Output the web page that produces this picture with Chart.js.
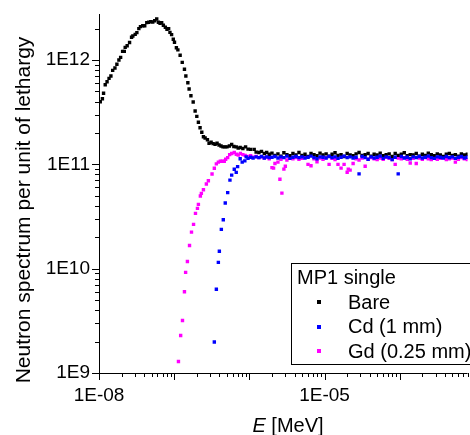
<!DOCTYPE html>
<html>
<head>
<meta charset="utf-8">
<script src="https://cdn.jsdelivr.net/npm/chart.js@4.4.1/dist/chart.umd.min.js"></script>
<style>
html, body { margin: 0; padding: 0; background: #fff; }
#chart { display: block; }
</style>
</head>
<body>
<canvas id="chart" width="470" height="435"></canvas>
<script>
// energies in MeV, spectrum per unit of lethargy
var bareE = [1.04e-8, 1.11e-8, 1.15e-8, 1.21e-8, 1.28e-8, 1.36e-8, 1.44e-8, 1.52e-8, 1.63e-8, 1.73e-8,
	1.84e-8, 1.94e-8, 2.06e-8, 2.17e-8, 2.23e-8, 2.37e-8, 2.55e-8, 2.71e-8, 2.82e-8, 3.03e-8,
	3.19e-8, 3.39e-8, 3.56e-8, 3.82e-8, 4.06e-8, 4.32e-8, 4.59e-8, 4.88e-8, 5.19e-8, 5.51e-8,
	5.86e-8, 6.17e-8, 6.49e-8, 6.82e-8, 7.18e-8, 7.63e-8, 8.02e-8, 8.44e-8, 8.79e-8, 9.24e-8,
	9.73e-8, 1.01e-7, 1.07e-7, 1.12e-7, 1.20e-7, 1.28e-7, 1.37e-7, 1.43e-7, 1.52e-7, 1.58e-7,
	1.67e-7, 1.79e-7, 1.90e-7, 2.00e-7, 2.10e-7, 2.21e-7, 2.33e-7, 2.45e-7, 2.58e-7, 2.77e-7,
	2.91e-7, 3.10e-7, 3.29e-7, 3.50e-7, 3.72e-7, 3.95e-7, 4.20e-7, 4.46e-7, 4.74e-7, 5.04e-7,
	5.42e-7, 5.82e-7, 6.22e-7, 6.69e-7, 7.10e-7, 7.55e-7, 8.20e-7, 8.91e-7, 9.60e-7, 1.04e-6,
	1.16e-6, 1.23e-6, 1.34e-6, 1.45e-6, 1.58e-6, 1.70e-6, 1.84e-6];
var bareFlux = [3.98e11, 4.25e11, 4.80e11, 5.80e11, 6.19e11, 6.67e11, 7.03e11, 7.96e11, 8.38e11, 9.10e11,
	1.00e12, 1.06e12, 1.21e12, 1.21e12, 1.32e12, 1.37e12, 1.47e12, 1.65e12, 1.70e12, 1.76e12,
	1.83e12, 2.00e12, 2.09e12, 2.13e12, 2.13e12, 2.28e12, 2.30e12, 2.33e12, 2.31e12, 2.38e12,
	2.47e12, 2.30e12, 2.25e12, 2.28e12, 2.15e12, 2.06e12, 1.97e12, 2.00e12, 1.84e12, 1.75e12,
	1.58e12, 1.48e12, 1.31e12, 1.25e12, 1.11e12, 9.50e11, 8.15e11, 7.03e11, 6.06e11, 5.27e11,
	4.55e11, 3.96e11, 3.24e11, 2.88e11, 2.53e11, 2.24e11, 2.03e11, 1.84e11, 1.79e11, 1.72e11,
	1.59e11, 1.63e11, 1.58e11, 1.56e11, 1.59e11, 1.53e11, 1.50e11, 1.47e11, 1.47e11, 1.47e11,
	1.50e11, 1.55e11, 1.48e11, 1.47e11, 1.43e11, 1.45e11, 1.42e11, 1.47e11, 1.40e11, 1.39e11,
	1.39e11, 1.31e11, 1.30e11, 1.33e11, 1.27e11, 1.30e11, 1.25e11];

var cdE = [3.42e-7, 3.64e-7, 3.87e-7, 3.99e-7, 4.24e-7, 4.50e-7, 4.78e-7, 5.15e-7, 5.52e-7, 5.82e-7,
	6.30e-7, 6.69e-7, 6.98e-7, 7.55e-7, 8.03e-7, 8.71e-7, 9.07e-7, 9.60e-7, 1.04e-6, 1.12e-6,
	1.23e-6, 1.34e-6, 1.45e-6, 1.58e-6, 1.70e-6, 1.84e-6];
var cdFlux = [1.98e9, 6.34e9, 1.15e10, 1.47e10, 2.38e10, 2.94e10, 4.26e10, 5.35e10, 7.06e10, 7.89e10,
	8.96e10, 8.38e10, 9.50e10, 1.13e11, 1.05e11, 1.08e11, 1.18e11, 1.14e11, 1.17e11, 1.15e11,
	1.18e11, 1.16e11, 1.19e11, 1.15e11, 1.18e11, 1.16e11];

var gdE = [1.14e-7, 1.22e-7, 1.29e-7, 1.37e-7, 1.42e-7, 1.50e-7, 1.60e-7, 1.70e-7, 1.81e-7, 1.92e-7,
	2.04e-7, 2.10e-7, 2.23e-7, 2.30e-7, 2.45e-7, 2.68e-7, 2.85e-7, 3.19e-7, 3.42e-7, 3.64e-7,
	3.87e-7, 4.11e-7, 4.36e-7, 4.64e-7, 4.84e-7, 5.15e-7, 5.47e-7, 5.82e-7, 6.30e-7, 6.70e-7,
	7.11e-7, 7.60e-7, 8.20e-7, 8.80e-7, 9.60e-7, 1.04e-6, 1.12e-6, 1.23e-6, 1.34e-6, 1.45e-6,
	1.58e-6, 1.70e-6, 1.84e-6];
var gdFlux = [1.29e9, 2.29e9, 3.19e9, 6.01e9, 9.21e9, 1.17e10, 1.67e10, 2.24e10, 2.66e10, 3.39e10,
	3.78e10, 4.13e10, 4.97e10, 5.27e10, 5.70e10, 6.48e10, 6.96e10, 8.08e10, 9.16e10, 1.01e11,
	1.05e11, 1.07e11, 1.07e11, 1.07e11, 1.12e11, 1.16e11, 1.24e11, 1.27e11, 1.30e11, 1.25e11,
	1.23e11, 1.27e11, 1.24e11, 1.22e11, 1.19e11, 1.21e11, 1.17e11, 1.19e11, 1.16e11, 1.18e11,
	1.15e11, 1.17e11, 1.13e11];
// Gd resonance dips that fall between the grid points
var gdDipE = [2.10e-6, 2.55e-6, 2.71e-6, 3.01e-6, 2.07e-5];
var gdDipFlux = [9.2e10, 7.2e10, 5.3e10, 9.6e10, 9.0e10];

// epithermal plateau, shared energy grid
var flatE = [2.00e-6, 2.19e-6, 2.40e-6, 2.63e-6, 2.88e-6, 3.16e-6, 3.47e-6, 3.80e-6, 4.17e-6, 4.57e-6,
	5.01e-6, 5.50e-6, 6.03e-6, 6.61e-6, 7.24e-6, 7.94e-6, 8.71e-6, 9.55e-6, 1.05e-5, 1.15e-5,
	1.26e-5, 1.38e-5, 1.51e-5, 1.66e-5, 1.82e-5, 2.00e-5, 2.19e-5, 2.40e-5, 2.63e-5, 2.88e-5,
	3.16e-5, 3.47e-5, 3.80e-5, 4.17e-5, 4.57e-5, 5.01e-5, 5.50e-5, 6.03e-5, 6.61e-5, 7.24e-5,
	7.94e-5, 8.71e-5, 9.55e-5, 1.05e-4, 1.15e-4, 1.26e-4, 1.38e-4, 1.51e-4, 1.66e-4, 1.82e-4,
	2.00e-4, 2.19e-4, 2.40e-4, 2.63e-4, 2.88e-4, 3.16e-4, 3.47e-4, 3.80e-4, 4.17e-4, 4.57e-4,
	5.01e-4, 5.50e-4, 6.03e-4, 6.61e-4, 7.24e-4, 7.94e-4, 8.71e-4];
var bareFlat = [1.28e11, 1.22e11, 1.26e11, 1.20e11, 1.29e11, 1.24e11, 1.21e11, 1.27e11, 1.23e11, 1.30e11,
	1.22e11, 1.25e11, 1.19e11, 1.27e11, 1.24e11, 1.21e11, 1.28e11, 1.23e11, 1.26e11, 1.20e11,
	1.25e11, 1.29e11, 1.22e11, 1.24e11, 1.19e11, 1.27e11, 1.23e11, 1.21e11, 1.26e11, 1.30e11,
	1.22e11, 1.24e11, 1.27e11, 1.20e11, 1.25e11, 1.23e11, 1.28e11, 1.21e11, 1.24e11, 1.26e11,
	1.19e11, 1.27e11, 1.22e11, 1.25e11, 1.29e11, 1.21e11, 1.24e11, 1.23e11, 1.27e11, 1.20e11,
	1.25e11, 1.22e11, 1.28e11, 1.24e11, 1.21e11, 1.26e11, 1.23e11, 1.19e11, 1.25e11, 1.27e11,
	1.22e11, 1.24e11, 1.20e11, 1.26e11, 1.23e11, 1.25e11, 1.21e11];
var cdFlat = [1.17e11, 1.19e11, 1.15e11, 1.18e11, 1.16e11, 1.20e11, 1.14e11, 1.17e11, 1.19e11, 1.16e11,
	1.18e11, 1.15e11, 1.17e11, 1.20e11, 1.16e11, 1.13e11, 1.18e11, 1.17e11, 1.15e11, 1.19e11,
	1.16e11, 1.18e11, 1.14e11, 1.17e11, 1.20e11, 1.16e11, 1.18e11, 1.15e11, 1.17e11, 8.10e10,
	1.19e11, 1.16e11, 1.12e11, 1.18e11, 1.15e11, 1.17e11, 1.20e11, 1.14e11, 1.18e11, 1.16e11,
	1.11e11, 1.17e11, 8.10e10, 1.19e11, 1.15e11, 1.17e11, 1.13e11, 1.18e11, 1.16e11, 1.19e11,
	1.15e11, 1.17e11, 1.20e11, 1.16e11, 1.14e11, 1.18e11, 1.17e11, 1.15e11, 1.19e11, 1.16e11,
	1.18e11, 1.14e11, 1.17e11, 1.19e11, 1.15e11, 1.17e11, 1.16e11];
var gdFlat = [9.30e10, 1.02e11, 1.05e11, 1.12e11, 9.00e10, 1.10e11, 1.15e11, 1.13e11, 1.16e11, 1.12e11,
	1.14e11, 1.17e11, 1.00e11, 9.70e10, 1.13e11, 1.06e11, 1.15e11, 1.12e11, 1.16e11, 1.00e11,
	1.14e11, 1.11e11, 1.00e11, 9.20e10, 1.00e11, 8.40e10, 8.80e10, 1.02e11, 1.13e11, 1.10e11,
	1.15e11, 9.60e10, 1.12e11, 1.16e11, 1.13e11, 1.11e11, 1.15e11, 1.12e11, 1.17e11, 1.14e11,
	1.11e11, 1.00e11, 1.15e11, 1.13e11, 1.16e11, 1.12e11, 1.03e11, 1.14e11, 1.02e11, 1.15e11,
	1.12e11, 1.16e11, 1.13e11, 1.11e11, 1.15e11, 1.12e11, 1.14e11, 1.17e11, 1.11e11, 1.13e11,
	1.15e11, 1.05e11, 1.12e11, 1.16e11, 1.13e11, 1.11e11, 1.14e11];

var seriesNames = ['Bare', 'Cd (1 mm)', 'Gd (0.25 mm)'];
var seriesColors = ['#000000', '#0000ff', '#ff00ff'];
var legendTitle = 'MP1 single';

// tick labels
var xLabelValues = [1e-8, 1e-5];
var xLabelText = ['1E-08', '1E-05'];
var yLabelValues = [1e9, 1e10, 1e11, 1e12];
var yLabelText = ['1E9', '1E10', '1E11', '1E12'];

var FONT = "'Liberation Sans', Arial, Helvetica, sans-serif";

function toPoints(es, fs) {
	var pts = [];
	for (var i = 0; i < es.length; i++) {
		pts.push({ x: es[i], y: fs[i] });
	}
	return pts;
}

function sameValue(a, b) {
	return Math.abs(Math.log10(a) - Math.log10(b)) < 1e-6;
}

function labelFor(value, values, texts) {
	for (var i = 0; i < values.length; i++) {
		if (sameValue(value, values[i])) return texts[i];
	}
	return '';
}

/** all 1..9 x 10^n ticks inside the range, majors flagged */
function logTicks(min, max) {
	var ticks = [];
	var e0 = Math.floor(Math.log10(min) + 1e-9);
	var e1 = Math.ceil(Math.log10(max));
	for (var e = e0; e <= e1; e++) {
		for (var m = 1; m < 10; m++) {
			var v = m * Math.pow(10, e);
			if (v >= min * 0.999999 && v <= max * 1.000001) {
				ticks.push({ value: v, major: m === 1 });
			}
		}
	}
	return ticks;
}

//axis lines and tick marks, drawn from the scales' own pixel mapping
var axisDecor = {
	id: 'axisDecor',
	afterDraw: function(chart) {
		var ctx = chart.ctx;
		var area = chart.chartArea;
		var xs = chart.scales.x;
		var ys = chart.scales.y;
		ctx.save();
		ctx.strokeStyle = '#000';
		ctx.lineWidth = 1;
		ctx.beginPath();
		ctx.moveTo(Math.round(area.left) + 0.5, area.top);
		ctx.lineTo(Math.round(area.left) + 0.5, Math.round(area.bottom) + 1);
		ctx.moveTo(Math.round(area.left), Math.round(area.bottom) + 0.5);
		ctx.lineTo(area.right, Math.round(area.bottom) + 0.5);
		xs.ticks.forEach(function(t) {
			var px = Math.round(xs.getPixelForValue(t.value)) + 0.5;
			var len = t.major ? 7 : 4;
			ctx.moveTo(px, Math.round(area.bottom));
			ctx.lineTo(px, Math.round(area.bottom) + len);
		});
		ys.ticks.forEach(function(t) {
			var py = Math.round(ys.getPixelForValue(t.value)) + 0.5;
			var len = t.major ? 7 : 4;
			ctx.moveTo(Math.round(area.left), py);
			ctx.lineTo(Math.round(area.left) - len, py);
		});
		ctx.stroke();

		// axis titles
		ctx.fillStyle = '#000';
		ctx.textBaseline = 'alphabetic';
		ctx.font = 'italic 20px ' + FONT;
		var wE = ctx.measureText('E').width;
		ctx.font = '20px ' + FONT;
		var wRest = ctx.measureText(' [MeV]').width;
		var x0 = 288 - (wE + wRest) / 2;
		ctx.font = 'italic 20px ' + FONT;
		ctx.textAlign = 'left';
		ctx.fillText('E', x0, 432);
		ctx.font = '20px ' + FONT;
		ctx.fillText(' [MeV]', x0 + wE, 432);

		ctx.save();
		ctx.translate(30, 210);
		ctx.rotate(-Math.PI / 2);
		ctx.textAlign = 'center';
		ctx.font = '21px ' + FONT;
		ctx.fillText('Neutron spectrum per unit of lethargy', 0, 0);
		ctx.restore();

		// legend box
		var lx = 291.5, ly = 263.5;
		ctx.fillStyle = '#fff';
		ctx.fillRect(lx, ly, 200, 101);
		ctx.strokeRect(lx, ly, 200, 101);
		ctx.fillStyle = '#000';
		ctx.textAlign = 'left';
		ctx.font = '20px ' + FONT;
		ctx.fillText(legendTitle, 297, 284);
		chart.data.datasets.forEach(function(ds) {
			var row = seriesNames.indexOf(ds.label);
			var cy = 302 + row * 24.5;
			ctx.fillStyle = ds.backgroundColor;
			ctx.fillRect(317, Math.round(cy) - 2, 4, 4);
			ctx.fillStyle = '#000';
			ctx.fillText(ds.label, 348, cy + 6.5);
		});
		ctx.restore();
	}
};

var ctx = document.getElementById('chart').getContext('2d');
var chart = new Chart(ctx, {
	type: 'scatter',
	data: {
		datasets: [
			{ label: seriesNames[0], data: toPoints(bareE.concat(flatE), bareFlux.concat(bareFlat)), backgroundColor: seriesColors[0], order: 1 },
			{ label: seriesNames[1], data: toPoints(cdE.concat(flatE), cdFlux.concat(cdFlat)), backgroundColor: seriesColors[1], order: 0 },
			{ label: seriesNames[2], data: toPoints(gdE.concat(flatE, gdDipE), gdFlux.concat(gdFlat, gdDipFlux)), backgroundColor: seriesColors[2], order: 2 }
		]
	},
	options: {
		responsive: false,
		animation: false,
		devicePixelRatio: 1,
		layout: { padding: { top: 14, left: 0, right: 0, bottom: 0 } },
		elements: { point: { pointStyle: 'rect', radius: 2.4, hoverRadius: 2.4, borderWidth: 0 } },
		plugins: { legend: { display: false }, tooltip: { enabled: false } },
		scales: {
			x: {
				type: 'logarithmic',
				position: 'bottom',
				min: 1e-8,
				max: 8.0e-4,
				grid: { display: false, drawTicks: false },
				border: { display: false },
				ticks: {
					autoSkip: false, maxRotation: 0, minRotation: 0, padding: 11, color: '#000',
					font: { family: FONT, size: 19 },
					callback: function(value) { return labelFor(value, xLabelValues, xLabelText); }
				},
				afterBuildTicks: function(scale) { scale.ticks = logTicks(scale.min, scale.max); },
				afterFit: function(scale) {
					scale.height = 62;
					scale.paddingLeft = 0;
					scale.paddingRight = 0;
				}
			},
			y: {
				type: 'logarithmic',
				position: 'left',
				min: 1e9,
				max: 2.76e12,
				grid: { display: false, drawTicks: false },
				border: { display: false },
				ticks: {
					autoSkip: false, padding: 9, color: '#000',
					font: { family: FONT, size: 19 },
					callback: function(value) { return labelFor(value, yLabelValues, yLabelText); }
				},
				afterBuildTicks: function(scale) { scale.ticks = logTicks(scale.min, scale.max); },
				afterFit: function(scale) {
					scale.width = 99;
					scale.paddingTop = 0;
					scale.paddingBottom = 0;
				}
			}
		}
	},
	plugins: [axisDecor]
});
</script>
</body>
</html>
